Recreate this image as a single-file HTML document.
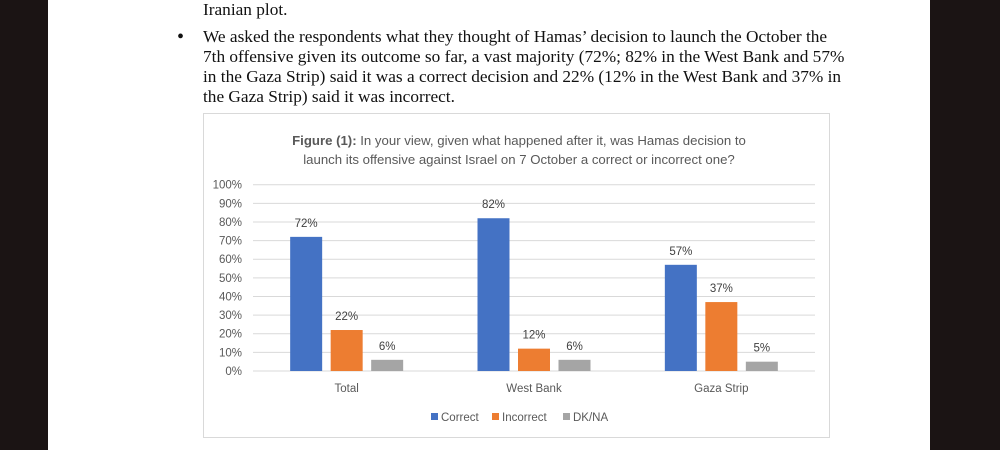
<!DOCTYPE html>
<html><head><meta charset="utf-8"><style>
body{margin:0;width:1000px;height:450px;overflow:hidden;background:#fff;position:relative;font-family:"Liberation Serif",serif}
.blk{position:absolute;top:0;height:450px;background:#1b1414}
.t{position:absolute;left:203px;font-size:17.3px;color:#111;white-space:nowrap;line-height:20px}
</style></head><body>
<div class="blk" style="left:0;width:48px"></div>
<div class="blk" style="left:930px;width:70px"></div>
<div class="t" style="top:0px">Iranian plot.</div>
<div class="t" style="left:177px;top:27px;font-size:20px">•</div>
<div class="t" style="top:27px">We asked the respondents what they thought of Hamas’ decision to launch the October the<br>7th offensive given its outcome so far, a vast majority (72%; 82% in the West Bank and 57%<br>in the Gaza Strip) said it was a correct decision and 22% (12% in the West Bank and 37% in<br>the Gaza Strip) said it was incorrect.</div>
<svg id="c" width="1000" height="450" style="position:absolute;left:0;top:0" font-family="Liberation Sans, DejaVu Sans, sans-serif"></svg>
<script>
const categories=["Total","West Bank","Gaza Strip"];
const seriesNames=["Correct","Incorrect","DK/NA"];
const correct=[72,82,57];
const incorrect=[22,12,37];
const dkna=[6,6,5];
const ticks=[0,10,20,30,40,50,60,70,80,90,100];
const colors=["#4472c4","#ed7d31","#a5a5a5"];
const svg=document.getElementById('c');const NS='http://www.w3.org/2000/svg';
function mk(t,a,txt){const e=document.createElementNS(NS,t);for(const k in a)e.setAttribute(k,a[k]);if(txt!=null)e.textContent=txt;svg.appendChild(e);return e;}
const x0=253,x1=815,yTop=184.7,yBot=371;
const y=v=>yBot-(v/100)*(yBot-yTop);
const bw=(x1-x0)/categories.length;
let e=mk('rect',{x:203.5,y:113.5,width:626,height:324,fill:'#fff',stroke:'#d9d9d9'});


e=mk('text',{x:519,y:145,'text-anchor':'middle','font-size':13.2,fill:'#595959'});


e.innerHTML='<tspan font-weight="bold">Figure (1):</tspan> In your view, given what happened after it, was Hamas decision to';
e=mk('text',{x:519,y:164,'text-anchor':'middle','font-size':13.2,fill:'#595959'},'launch its offensive against Israel on 7 October a correct or incorrect one?');


ticks.forEach(t=>{
 e=mk('line',{x1:x0,x2:x1,y1:y(t),y2:y(t),stroke:'#d9d9d9','stroke-width':1});
 
 
 e=mk('text',{x:242,y:y(t)+4,'text-anchor':'end','font-size':11.5,fill:'#595959'},t+'%');
 
 
});
const series=[correct,incorrect,dkna];
const barW=32,gap=8.5;
categories.forEach((c,i)=>{
 const cx=x0+bw*(i+0.5);
 series.forEach((s,j)=>{
  const bx=cx+(j-1)*(barW+gap)-barW/2;
  e=mk('rect',{x:bx,y:y(s[i]),width:barW,height:yBot-y(s[i]),fill:colors[j]});
  
  
  e=mk('text',{x:bx+barW/2,y:y(s[i])-10,'text-anchor':'middle','font-size':11.5,fill:'#404040'},s[i]+'%');
  
  
 });
 e=mk('text',{x:cx,y:392,'text-anchor':'middle','font-size':11.5,fill:'#595959'},c);
 
 
});
let lx=[431,492,563];
seriesNames.forEach((n,j)=>{
 e=mk('rect',{x:lx[j],y:413,width:7,height:7,fill:colors[j]});
 
 
 e=mk('text',{x:lx[j]+10,y:421,'font-size':11.5,fill:'#595959'},n);
 
 
});
</script>
</body></html>
